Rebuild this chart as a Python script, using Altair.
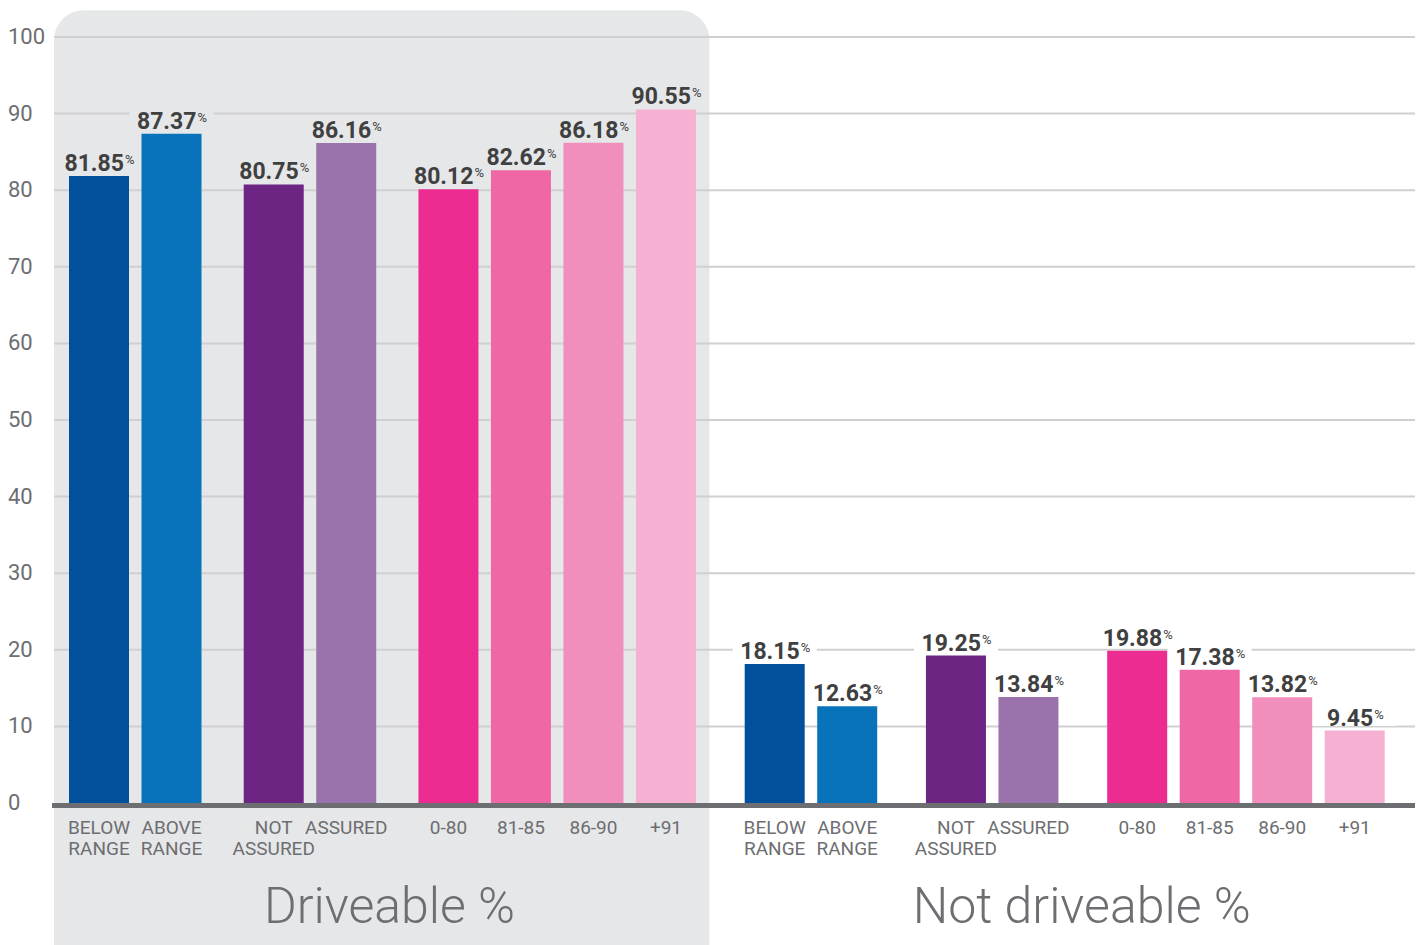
import altair as alt
import pandas as pd

# ---------------- data ----------------
halves = ["Driveable %", "Not driveable %"]
categories = ["BELOW\nRANGE", "ABOVE\nRANGE", "NOT\nASSURED", "ASSURED",
              "0-80", "81-85", "86-90", "+91"]
subgroup = [0, 0, 1, 1, 2, 2, 2, 2]
driveable = [81.85, 87.37, 80.75, 86.16, 80.12, 82.62, 86.18, 90.55]
not_driveable = [18.15, 12.63, 19.25, 13.84, 19.88, 17.38, 13.82, 9.45]
colors = ["#00509b", "#0873ba", "#6c2583", "#9a73ad",
          "#ed2c92", "#f067a6", "#f28ebb", "#f6b0d2"]
yticks = [0, 10, 20, 30, 40, 50, 60, 70, 80, 90, 100]

# ---------------- layout ----------------
W, H = 1361, 766
PAD = {"left": 54, "top": 37, "right": 8, "bottom": 142}
UNIT = 72.5                      # pixels per bar step
X_MIN = -45 / UNIT
X_MAX = X_MIN + W / UNIT
SUB_GAP = [1.41, 1.5]            # gap between sub-groups, per half
HALF_GAP = 1.5
TITLE_SHIFT_PX = [7, 17]
GREY = "#e6e7e8"
TXT = "#6d6e71"
DARK = "#404041"
FONT = "Roboto"

rows = []
pos = 0.0
for h, (half, vals) in enumerate(zip(halves, [driveable, not_driveable])):
    for i, (cat, v, col, sg) in enumerate(zip(categories, vals, colors, subgroup)):
        if i > 0:
            pos += 1.0 if subgroup[i - 1] == sg else SUB_GAP[h]
        elif h > 0:
            pos += HALF_GAP
        label = f"{v:.2f}"
        ndig = sum(c.isdigit() for c in label)
        w = 12.9 * ndig + 6.3
        rows.append({
            "half": half, "cat": cat, "value": v, "color": col, "pos": pos,
            "label": label,
            "anchor": pos + (w / 2 - 4) / UNIT,
            "box_lo": v + 0.6, "box_hi": v + 3.6,
            "boxfill": GREY if h == 0 else "#ffffff",
        })
df = pd.DataFrame(rows)

left_last = df[df.half == halves[0]].pos.max()
bg = pd.DataFrame([{"x": X_MIN, "x2": left_last + 0.6, "y": -25, "y2": 103.5}])

titles = df.groupby("half", as_index=False, sort=False).pos.agg(["min", "max"])
titles["tx"] = (titles["min"] + titles["max"]) / 2 + pd.Series(TITLE_SHIFT_PX) / UNIT

xs = alt.Scale(domain=[X_MIN, X_MAX], nice=False, zero=False, padding=0)
ys = alt.Scale(domain=[0, 100], nice=False, zero=False, padding=0)

bg_layer = alt.Chart(bg).mark_rect(
    fill=GREY, cornerRadiusTopLeft=30, cornerRadiusTopRight=30
).encode(
    x=alt.X("x:Q", scale=xs, axis=None), x2="x2:Q",
    y=alt.Y("y:Q", scale=ys, axis=None), y2="y2:Q",
)

grid_layer = alt.Chart(pd.DataFrame({"t": yticks[1:]})).mark_rule(
    color="#d0d0d2", strokeWidth=2
).encode(
    y=alt.Y("t:Q", scale=ys, axis=None),
    x=alt.value(0), x2=alt.value(W),
)

ytick_layer = alt.Chart(pd.DataFrame({"t": yticks})).mark_text(
    font=FONT, fontSize=22, color=TXT, align="left", baseline="middle"
).encode(
    y=alt.Y("t:Q", scale=ys, axis=None),
    x=alt.value(-46),
    text=alt.Text("t:Q"),
)

box_layer = alt.Chart(df).mark_bar(size=84).encode(
    x=alt.X("pos:Q", scale=xs, axis=None),
    y=alt.Y("box_lo:Q", scale=ys, axis=None), y2="box_hi:Q",
    color=alt.Color("boxfill:N", scale=None),
)

bar_layer = alt.Chart(df).mark_bar(size=60).encode(
    x=alt.X("pos:Q", scale=xs, axis=None),
    y=alt.Y("value:Q", scale=ys, axis=None),
    color=alt.Color("color:N", scale=None),
)

base_layer = alt.Chart(pd.DataFrame({"z": [0]})).mark_rule(
    color=TXT, strokeWidth=5, yOffset=2.5
).encode(
    y=alt.Y("z:Q", scale=ys, axis=None),
    x=alt.value(-2), x2=alt.value(W),
)

num_layer = alt.Chart(df).mark_text(
    font=FONT, fontWeight="bold", fontSize=23, color=DARK,
    align="right", baseline="alphabetic", dy=-5
).encode(
    x=alt.X("anchor:Q", scale=xs, axis=None),
    y=alt.Y("value:Q", scale=ys, axis=None),
    text="label:N",
)

pct_layer = alt.Chart(df).mark_text(
    font=FONT, fontSize=13, color=DARK,
    align="left", baseline="alphabetic", dy=-12, dx=1
).encode(
    x=alt.X("anchor:Q", scale=xs, axis=None),
    y=alt.Y("value:Q", scale=ys, axis=None),
    text=alt.value("%"),
)

cat_layer = alt.Chart(df).mark_text(
    font=FONT, fontSize=19, color=TXT, align="center",
    baseline="alphabetic", lineBreak="\n", lineHeight=21
).encode(
    x=alt.X("pos:Q", scale=xs, axis=None),
    y=alt.value(834 - PAD["top"]),
    text="cat:N",
)

title_layer = alt.Chart(titles).mark_text(
    font=FONT, fontSize=50, fontWeight=300, color=TXT,
    align="center", baseline="alphabetic"
).encode(
    x=alt.X("tx:Q", scale=xs, axis=None),
    y=alt.value(923 - PAD["top"]),
    text="half:N",
)

chart = alt.layer(
    bg_layer, grid_layer, ytick_layer, box_layer, bar_layer, base_layer,
    num_layer, pct_layer, cat_layer, title_layer
).properties(
    width=W, height=H, padding=PAD,
    autosize=alt.AutoSizeParams(type="none"),
    background="#ffffff",
).configure_view(stroke=None)

chart.save("out.html", embed_options={"renderer": "svg", "actions": False})
